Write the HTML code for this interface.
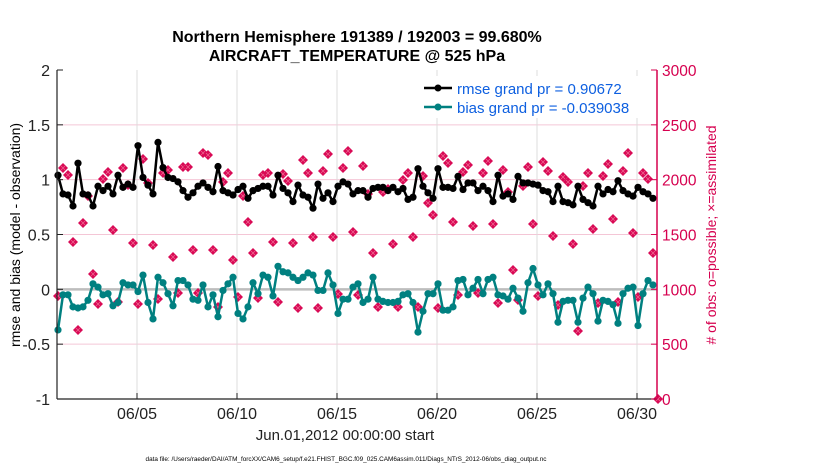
<!DOCTYPE html>
<html><head><meta charset="utf-8"><style>
body{margin:0;background:#fff;}
svg{display:block;font-family:"Liberation Sans",sans-serif;}
</style></head><body>
<svg id="chart" width="830" height="470" viewBox="0 0 830 470">
<text x="357" y="42" text-anchor="middle" font-size="16" font-weight="bold">Northern Hemisphere 191389 / 192003 = 99.680%</text>
<text x="357" y="61" text-anchor="middle" font-size="16" font-weight="bold">AIRCRAFT_TEMPERATURE @ 525 hPa</text>
<g id="grid"></g>
<g id="marks"></g>
<g id="axes"></g>
<g>
<rect x="418" y="76" width="230" height="42" fill="#fff"/>
<line x1="424" y1="88" x2="452" y2="88" stroke="#000" stroke-width="2.5"/>
<circle cx="438" cy="88" r="3.5" fill="#000"/>
<text x="457" y="94" font-size="15" fill="#0d5fe0">rmse grand pr = 0.90672</text>
<line x1="424" y1="107" x2="452" y2="107" stroke="#008080" stroke-width="2.5"/>
<circle cx="438" cy="107" r="3.5" fill="#008080"/>
<text x="457" y="113" font-size="15" fill="#0d5fe0">bias grand pr = -0.039038</text>
</g>
<text transform="translate(20,235) rotate(-90)" text-anchor="middle" font-size="14">rmse and bias (model - observation)</text>
<text transform="translate(716,235) rotate(-90)" text-anchor="middle" font-size="14" fill="#d6004f"># of obs: o=possible; ×=assimilated</text>
<text x="345" y="440" text-anchor="middle" font-size="15" fill="#222">Jun.01,2012 00:00:00 start</text>
<text x="346" y="461" text-anchor="middle" font-size="6.4" fill="#000">data file: /Users/raeder/DAI/ATM_forcXX/CAM6_setup/f.e21.FHIST_BGC.f09_025.CAM6assim.011/Diags_NTrS_2012-06/obs_diag_output.nc</text>
</svg>
<script>
const rmse=[1.04,0.87,0.86,0.76,1.15,0.87,0.86,0.76,0.94,0.90,0.94,0.87,1.04,0.93,0.96,0.93,1.31,1.02,0.95,0.87,1.34,1.11,1.02,1.01,0.98,0.90,0.84,0.88,0.94,0.97,0.93,0.89,1.12,0.90,0.88,0.86,0.91,0.94,0.83,0.90,
0.92,0.94,0.94,0.86,1.04,0.92,0.88,0.80,0.95,0.86,0.84,0.74,0.96,0.83,0.88,0.80,0.94,0.98,0.96,0.87,0.90,0.90,0.84,0.92,0.93,0.93,0.90,0.93,0.89,0.92,0.82,0.84,1.10,0.94,0.88,0.83,1.10,0.93,0.93,0.92,1.03,
0.91,0.97,0.97,0.90,0.94,0.90,0.80,1.04,0.85,0.87,0.82,1.03,0.97,0.97,0.96,0.95,0.90,0.89,0.80,0.94,0.80,0.79,0.77,0.94,0.82,0.79,0.76,0.94,0.87,0.91,0.89,0.99,0.90,0.87,0.85,0.93,0.89,0.87,0.83];
const bias=[-0.37,-0.05,-0.05,-0.16,-0.17,-0.16,-0.10,0.05,0.02,-0.05,-0.04,-0.15,-0.12,0.06,0.04,0.04,-0.02,0.13,-0.12,-0.27,0.11,0.06,-0.04,-0.15,0.08,0.08,0.04,-0.09,-0.10,0.04,-0.16,-0.05,-0.25,-0.01,0.05,0.11,-0.22,-0.27,-0.16,0.06,
-0.04,0.13,0.11,-0.06,0.21,0.16,0.15,0.11,0.08,0.11,0.15,0.13,-0.01,-0.01,0.15,0.04,-0.22,-0.09,-0.09,0.02,0.05,-0.12,-0.09,0.11,-0.09,-0.11,-0.12,-0.12,-0.11,-0.05,-0.04,-0.12,-0.39,-0.20,-0.04,-0.04,0.05,-0.19,-0.19,-0.16,0.08,
0.09,-0.05,0.01,0.09,-0.04,0.09,0.11,-0.05,-0.06,-0.09,0.01,-0.08,-0.20,0.06,0.19,0.04,-0.05,0.05,-0.04,-0.30,-0.11,-0.10,-0.10,-0.30,-0.08,0.02,-0.04,-0.29,-0.10,-0.11,-0.14,-0.31,-0.04,0.01,0.02,-0.33,-0.04,0.08,0.04];
const nobs=[939,2106,2043,1432,629,1605,1851,1140,866,2006,2070,1541,885,2106,1951,1423,866,2188,1970,1404,912,2061,2088,1295,967,2115,2115,1359,967,2243,2225,1359,839,1979,2061,1268,930,1851,1614,1331,
921,2043,2061,1432,885,2052,1988,1423,830,2179,2061,1477,830,2079,2234,1477,958,2106,2261,1523,948,2125,1869,1331,839,1888,1915,1413,839,1997,2061,1477,839,2034,1787,1678,830,2216,2152,1614,948,
2070,2134,1578,967,2061,2170,1596,875,2088,1888,1176,903,1942,2115,1596,939,2161,2079,1486,857,2024,1979,1413,620,1942,2061,1550,875,2034,2143,1641,885,2079,2243,1514,930,2061,2006,1331,0];
const xTickLabels=["06/05","06/10","06/15","06/20","06/25","06/30"];
const xTickDays=[5,10,15,20,25,30];
const yLeftTicks=[-1,-0.5,0,0.5,1,1.5,2];
const yRightTicks=[0,500,1000,1500,2000,2500,3000];

const NS="http://www.w3.org/2000/svg";
const L=57,R=657,T=70,B=399;
const xDay=d=>L+(d-1)*20;
const xIdx=i=>xDay(1.05+0.25*i);
const yL=v=>B-(v+1)/3*(B-T);
const yR=v=>B-v/3000*(B-T);
function mk(tag,attrs,parent){const e=document.createElementNS(NS,tag);for(const k in attrs)e.setAttribute(k,attrs[k]);parent.appendChild(e);return e;}
const grid=document.getElementById('grid'),marks=document.getElementById('marks'),axes=document.getElementById('axes');
mk('rect',{x:L,y:T,width:R-L,height:B-T,fill:'#fff'},grid);
yRightTicks.forEach(v=>{if(v>0&&v<3000){const l=mk('line',{x1:L,x2:R,y1:yR(v),y2:yR(v),stroke:'#f4c6d6','stroke-width':1},grid);

}});
xTickDays.forEach(d=>{const l=mk('line',{x1:xDay(d),x2:xDay(d),y1:T,y2:B,stroke:'#dcdcdc','stroke-width':1},grid);

});
const z=mk('line',{x1:L,x2:R,y1:yL(0),y2:yL(0),stroke:'#bdbdbd','stroke-width':2.5},grid);


nobs.forEach((v,i)=>{const x=xIdx(i),y=yR(v);const g=mk('g',{},marks);


mk('path',{d:`M${x} ${y-5}L${x+5} ${y}L${x} ${y+5}L${x-5} ${y}Z`,fill:'#d90a55'},g);
mk('path',{d:`M${x-2} ${y-2}L${x+2} ${y+2}M${x-2} ${y+2}L${x+2} ${y-2}`,stroke:'#ee6c95','stroke-width':0.7},g);});
function series(arr,color,name){
const p=mk('polyline',{points:arr.map((v,i)=>xIdx(i)+','+yL(v)).join(' '),fill:'none',stroke:color,'stroke-width':2.5,'stroke-linejoin':'round'},marks);


arr.forEach((v,i)=>{const c=mk('circle',{cx:xIdx(i),cy:yL(v),r:3.6,fill:color},marks);

});}
series(bias,'#008080','bias');
series(rmse,'#000000','rmse');
mk('line',{x1:L,x2:L,y1:T,y2:B,stroke:'#222','stroke-width':1.2},axes);
mk('line',{x1:L,x2:R,y1:B,y2:B,stroke:'#222','stroke-width':1.2},axes);
mk('line',{x1:R,x2:R,y1:T,y2:B,stroke:'#d6004f','stroke-width':1.5},axes);
yLeftTicks.forEach(v=>{const y=yL(v);mk('line',{x1:L,x2:L+6,y1:y,y2:y,stroke:'#222'},axes);
const t=mk('text',{x:L-7,y:y+6,'text-anchor':'end','font-size':16,fill:'#222'},axes);t.textContent=v;

});
yRightTicks.forEach(v=>{const y=yR(v);mk('line',{x1:R-6,x2:R,y1:y,y2:y,stroke:'#d6004f'},axes);
const t=mk('text',{x:R+5,y:y+6,'font-size':15.5,fill:'#d6004f'},axes);t.textContent=v;

});
xTickDays.forEach((d,i)=>{const x=xDay(d);mk('line',{x1:x,x2:x,y1:B,y2:B-6,stroke:'#222'},axes);
const t=mk('text',{x:x,y:B+20,'text-anchor':'middle','font-size':16,fill:'#222'},axes);t.textContent=xTickLabels[i];

});
</script>
</body></html>
